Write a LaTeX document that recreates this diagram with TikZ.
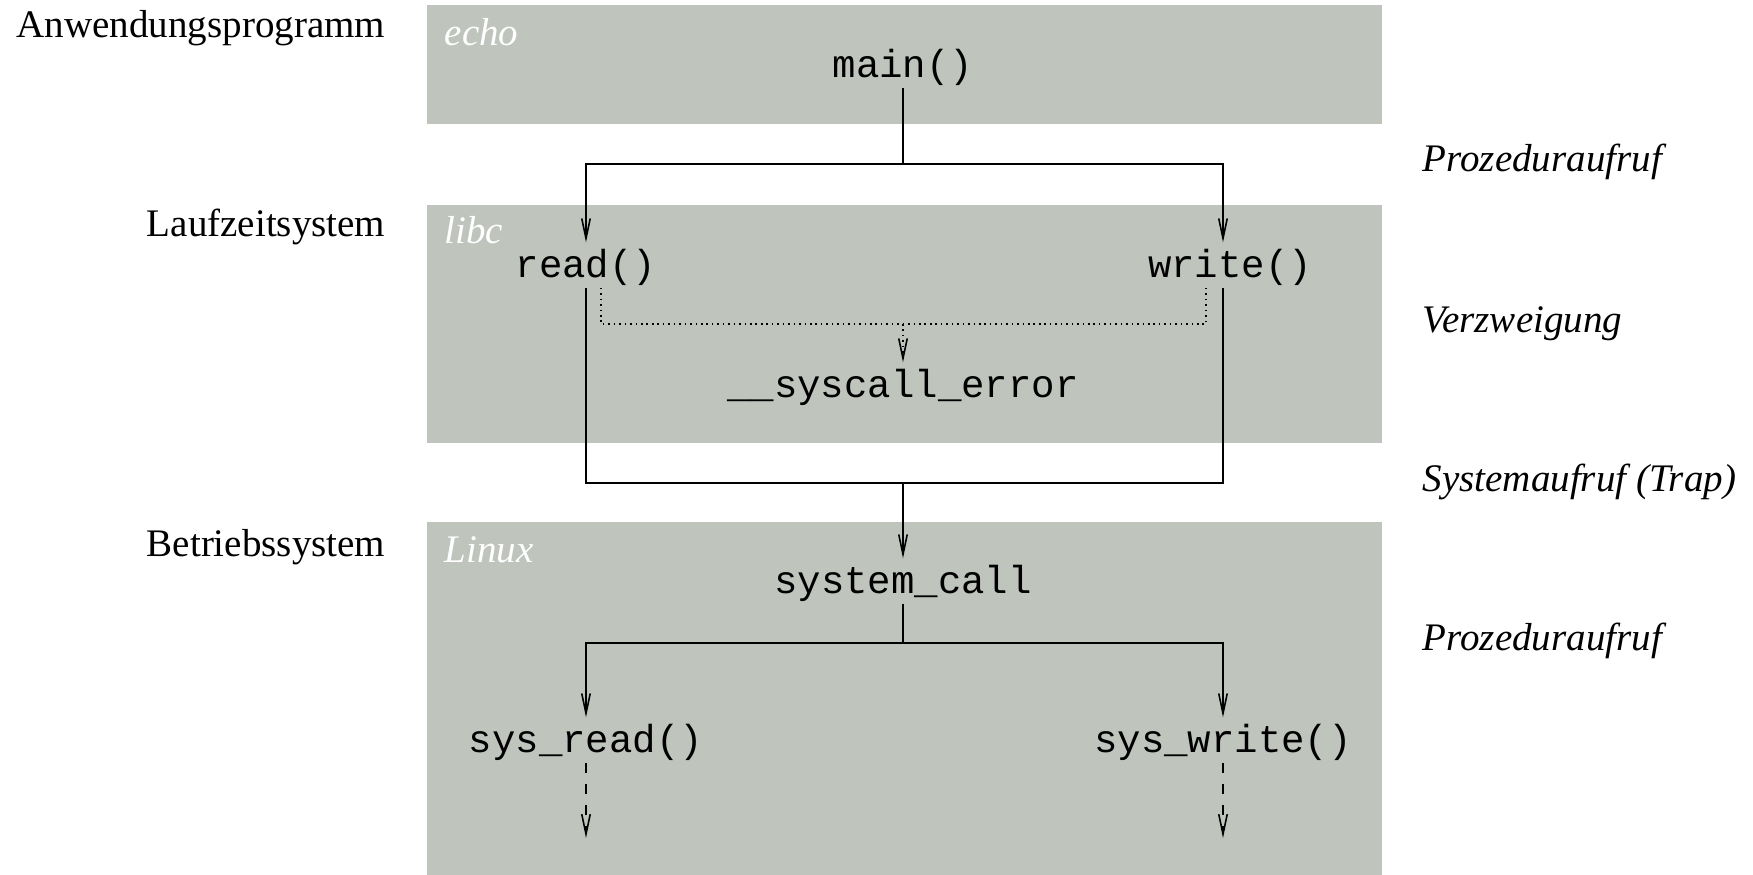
\documentclass[tikz,border=0pt]{standalone}
\usepackage{fontspec}
\setmainfont{Liberation Serif}
\setmonofont{Liberation Mono}
\usetikzlibrary{arrows.meta}
\definecolor{layerfill}{RGB}{191,196,189}
\tikzset{
  layer/.style={fill=layerfill},
  code/.style={font=\fontsize{11.1pt}{13pt}\selectfont\ttfamily, inner sep=0pt, text height=0.34cm, text depth=0.1cm, anchor=base},
  lvl/.style={font=\fontsize{11.1pt}{13pt}\selectfont, inner sep=0pt, anchor=base east},
  kind/.style={font=\fontsize{11.1pt}{13pt}\selectfont\itshape, inner sep=0pt, anchor=base west},
  tag/.style={font=\fontsize{11.1pt}{13pt}\selectfont\itshape, text=white, inner sep=0pt, anchor=base west},
  conn/.style={line width=0.45pt},
  arr/.style={conn, -{Straight Barb[length=2mm,width=0.85mm]}},
  dotline/.style={conn, dash pattern=on 0.45pt off 1.1pt},
  dashline/.style={conn, dash pattern=on 3pt off 3pt},
}
\begin{document}
\begin{tikzpicture}[x=0.01cm,y=-0.01cm]
\useasboundingbox (0,0) rectangle (1753,875);
% layers
\fill[layer] (427,4.5) rectangle (1382,124);
\fill[layer] (427,205) rectangle (1382,443);
\fill[layer] (427,522) rectangle (1382,875);
% level labels
\node[lvl] (anw) at (386,37) {Anwendungsprogramm};
\node[lvl] (lzs) at (386,236) {Laufzeitsystem};
\node[lvl] (bs) at (386,556) {Betriebssystem};
% kind labels
\node[kind] (k1) at (1422,171) {Prozeduraufruf};
\node[kind] (k2) at (1422,332) {Verzweigung};
\node[kind] (k3) at (1422,491) {Systemaufruf (Trap)};
\node[kind] (k4) at (1422,650) {Prozeduraufruf};
% layer tags
\node[tag] (techo) at (444,45) {echo};
\node[tag] (tlibc) at (444,243) {libc};
\node[tag] (tlinux) at (444,562) {Linux};
% code nodes
\node[code] (main) at (903,77) {main()};
\node[code] (read) at (586,277) {read()};
\node[code] (write) at (1230,277) {write()};
\node[code] (err) at (903,397) {\_\_syscall\_error};
\node[code] (sysc) at (903,593) {system\_call};
\node[code] (sread) at (586,752) {sys\_read()};
\node[code] (swrite) at (1223,752) {sys\_write()};
% junctions
\coordinate (j1) at (903,164);
\coordinate (j2) at (903,483);
\coordinate (j3) at (903,324);
\coordinate (j4) at (903,643);
\coordinate (wx) at (1223,0);
\coordinate (rend) at (586,838);
\coordinate (wend) at (1223,838);
% main -> read/write
\draw[conn] (main.south) -- (j1);
\draw[arr] (j1) -| (read.north);
\draw[arr] (j1) -| (wx |- write.north);
% read/write -> system_call
\draw[conn] (read.south) |- (j2) -| (wx |- write.south);
\draw[arr] (j2) -- (sysc.north);
% error branch
\draw[dotline] ([xshift=0.15cm]read.south) |- (j3) -| ([xshift=-0.24cm]write.south);
\draw[dotline, -{Straight Barb[length=2mm,width=0.85mm]}] (j3) -- (err.north);
% system_call -> sys_read/sys_write
\draw[conn] (sysc.south) -- (j4);
\draw[arr] (j4) -| (sread.north);
\draw[arr] (j4) -| (swrite.north);
% continuation
\draw[dashline, -{Straight Barb[length=2mm,width=0.85mm]}] (sread.south) -- (rend);
\draw[dashline, -{Straight Barb[length=2mm,width=0.85mm]}] (swrite.south) -- (wend);
\end{tikzpicture}
\end{document}
